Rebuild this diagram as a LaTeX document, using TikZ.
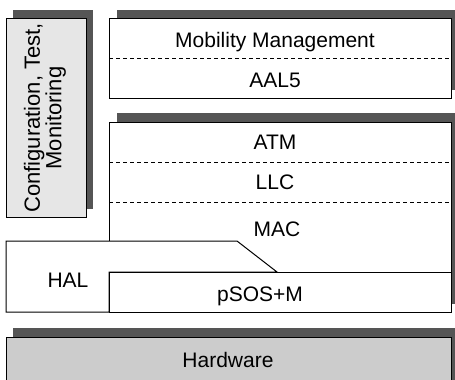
\documentclass[tikz,border=0pt]{standalone}
\usepackage{fontspec}
\setmainfont{Liberation Sans}
\definecolor{shade}{HTML}{555555}
\definecolor{cfgfill}{HTML}{E6E6E6}
\definecolor{hwfill}{HTML}{CCCCCC}
\begin{document}
\begin{tikzpicture}[x=1pt,y=-1pt,
  shadowbox/.style={fill=shade,draw=none},
  layerbox/.style={draw=black,line width=1pt,fill=white},
  sep/.style={draw=black,line width=0.7pt,dash pattern=on 4pt off 3pt},
  lbl/.style={font=\fontsize{21}{23}\selectfont,inner sep=0pt,anchor=base}]
\useasboundingbox[fill=white] (0,0) rectangle (455,380);

% shadows (offset up and right)
\fill[shadowbox] (13,10) rectangle (93,209);
\fill[shadowbox] (117,10) rectangle (460,90);
\fill[shadowbox] (117,113) rectangle (460,304);
\fill[shadowbox] (13,328) rectangle (460,390);

% configuration column
\draw[layerbox,fill=cfgfill] (6,18) rectangle (86,217);
\node[rotate=90,font=\fontsize{22}{19}\selectfont,align=center,inner sep=0pt]
  (cfg) at (45,118) {Configuration, Test,\\Monitoring};

% upper stack: Mobility Management / AAL5
\draw[layerbox] (109,18) rectangle (451,98);
\draw[sep] (109,58) -- (451,58);
\node[lbl] (mm) at (275,47) {Mobility Management};
\node[lbl] (aal) at (275,87) {AAL5};

% lower stack: ATM / LLC / MAC
\draw[layerbox] (109,122) rectangle (451,312);
\draw[sep] (109,162) -- (451,162);
\draw[sep] (109,202) -- (451,202);
\node[lbl] (atm) at (275,149) {ATM};
\node[lbl] (llc) at (275,189) {LLC};
\node[lbl] (mac) at (277,236) {MAC};

% HAL and pSOS+M
\draw[line width=1pt,fill=white] (6,241) -- (237,241) -- (277,272) -- (109,272)
  -- (109,312) -- (6,312) -- cycle;
\draw[line width=1pt] (109,272) -- (451,272) -- (451,312) -- (109,312) -- cycle;
\node[lbl] (hal) at (68,287) {HAL};
\node[lbl] (psos) at (260,301) {pSOS+M};

% hardware
\draw[layerbox,fill=hwfill] (6,337) rectangle (451,390);
\node[lbl] (hw) at (228,367) {Hardware};
\end{tikzpicture}
\end{document}
